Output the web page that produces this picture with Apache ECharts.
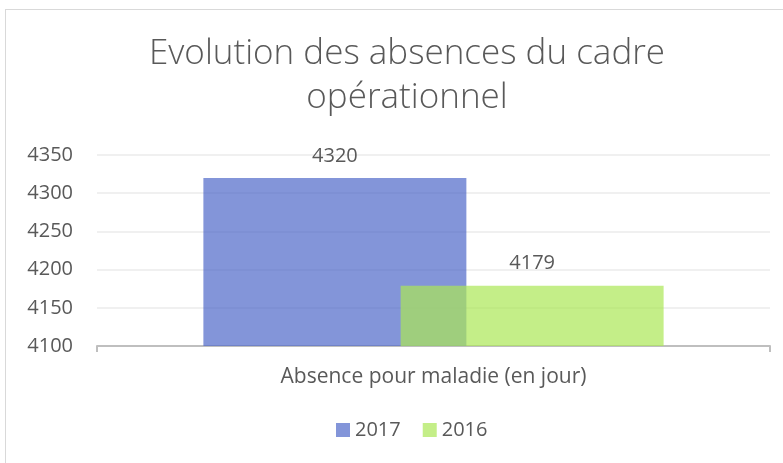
<!DOCTYPE html>
<html>
<head>
<meta charset="utf-8">
<script src="https://cdn.jsdelivr.net/npm/echarts@6/dist/echarts.min.js"></script>
<style>
  html, body { margin: 0; padding: 0; background: #fff; }
  #frame { position: absolute; left: 5px; top: 9px; width: 800px; height: 480px; border: 1px solid #d9d9d9; }
  #chart { position: absolute; left: 0; top: 0; width: 783px; height: 463px; }
</style>
</head>
<body>
<div id="frame"></div>
<div id="chart"></div>
<script>
const categories = ['Absence pour maladie (en jour)']
const seriesNames = ['2017', '2016']
const values2017 = [4320]
const values2016 = [4179]
const yTicks = { min: 4100, max: 4350, interval: 50 }

const textColor = '#595959'
const font = '"Open Sans", "Liberation Sans", sans-serif'

const chart = echarts.init(document.getElementById('chart'))

// transparent fills so the overlap of the two bars mixes like the original
const barSeries = (name, data, color) => ({
  name,
  type: 'bar',
  data,
  barWidth: 263,
  barGap: '-25%',
  itemStyle: { color },
  label: {
    show: true,
    position: 'top',
    distance: 12,
    color: textColor,
    fontSize: 20,
    fontFamily: font
  }
})

chart.setOption({
  animation: false,
  title: {
    text: 'Evolution des absences du cadre\nopérationnel',
    left: 402,
    textAlign: 'center',
    top: 27,
    textStyle: {
      color: textColor,
      fontSize: 35,
      fontWeight: 300,
      fontFamily: font,
      lineHeight: 44
    }
  },
  legend: {
    bottom: 18,
    left: 331,
    itemWidth: 14,
    itemHeight: 14,
    itemGap: 22,
    icon: 'rect',
    textStyle: { color: textColor, fontSize: 20, fontFamily: font }
  },
  grid: { left: 97, right: 13, top: 155, bottom: 117 },
  xAxis: {
    type: 'category',
    data: categories,
    axisLine: { lineStyle: { color: '#bfbfbf', width: 2 } },
    axisTick: { show: true, length: 6, lineStyle: { color: '#bfbfbf', width: 2 } },
    axisLabel: { color: textColor, fontSize: 21, fontFamily: font, margin: 21 }
  },
  yAxis: {
    type: 'value',
    min: yTicks.min,
    max: yTicks.max,
    interval: yTicks.interval,
    axisLine: { show: false },
    axisTick: { show: false },
    axisLabel: { color: textColor, fontSize: 20, fontFamily: font, margin: 24, formatter: v => String(v) },
    splitLine: { lineStyle: { color: '#ebebeb', width: 1.5 } }
  },
  series: [
    barSeries(seriesNames[0], values2017, 'rgba(78,104,201,0.7)'),
    barSeries(seriesNames[1], values2016, 'rgba(171,231,85,0.7)')
  ]
})
</script>
</body>
</html>
